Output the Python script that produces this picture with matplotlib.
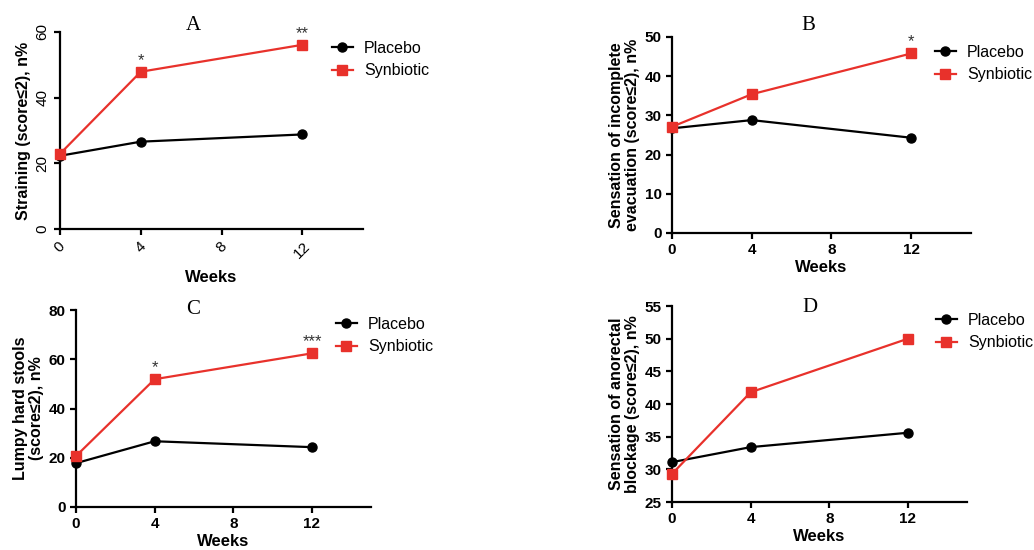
import matplotlib
matplotlib.use('Agg')
import matplotlib.pyplot as plt

plt.rcParams['font.family'] = ['Liberation Sans', 'DejaVu Sans']

weeks = [0, 4, 12]

placebo_a = [22.3, 26.6, 28.8]
synbiotic_a = [22.9, 47.9, 56.1]
placebo_b = [26.7, 28.8, 24.3]
synbiotic_b = [27.1, 35.4, 45.8]
placebo_c = [17.8, 26.7, 24.3]
synbiotic_c = [20.7, 51.9, 62.4]
placebo_d = [31.1, 33.4, 35.6]
synbiotic_d = [29.3, 41.8, 50.0]

stars_a = ['', '*', '**']
stars_b = ['', '', '*']
stars_c = ['', '*', '***']
stars_d = ['', '', '']

RED = '#e8312b'
W, H = 1034, 550


def px_axes(fig, left, top, right, bottom):
    return fig.add_axes([left / W, 1 - bottom / H, (right - left) / W, (bottom - top) / H])


def panel(ax, placebo, synbiotic, stars, letter, letter_xy, ylabel, ylim, yticks, legend_xy,
          rotated=False):
    ax.plot(weeks, placebo, color='black', marker='o', ms=6.5, lw=1.6, label='Placebo',
            clip_on=False, zorder=3)
    ax.plot(weeks, synbiotic, color=RED, marker='s', ms=6.5, lw=1.6, label='Synbiotic',
            clip_on=False, zorder=3)
    span = ylim[1] - ylim[0]
    for x, y, s in zip(weeks, synbiotic, stars):
        if s:
            ax.text(x, y + span * 0.02, s, ha='center', va='bottom', fontsize=12,
                    color='#333333')
    ax.set_xlim(0, 15)
    ax.set_ylim(*ylim)
    ax.set_xticks([0, 4, 8, 12])
    ax.set_yticks(yticks)
    for side in ('top', 'right'):
        ax.spines[side].set_visible(False)
    for side in ('left', 'bottom'):
        ax.spines[side].set_linewidth(1.6)
    ax.tick_params(width=1.6, length=4, labelsize=11)
    if rotated:
        for lab in ax.get_yticklabels():
            lab.set_rotation(90)
            lab.set_va('center')
        for lab in ax.get_xticklabels():
            lab.set_rotation(45)
            lab.set_ha('center')
    else:
        for lab in ax.get_xticklabels() + ax.get_yticklabels():
            lab.set_fontweight('bold')
    ax.set_xlabel('Weeks', fontsize=12, fontweight='bold', labelpad=2 if not rotated else 6)
    ax.set_ylabel(ylabel, fontsize=11.5, fontweight='bold', linespacing=1.1, labelpad=3)
    fig = ax.figure
    fig.text(letter_xy[0] / W, 1 - letter_xy[1] / H, letter, family='Liberation Serif',
             fontsize=15, ha='center', va='center')
    ax.legend(loc='upper left', bbox_to_anchor=legend_xy, bbox_transform=fig.transFigure,
              frameon=False, fontsize=11.5, handlelength=1.3, handletextpad=0.7,
              labelspacing=0.45, borderpad=0, borderaxespad=0)


fig = plt.figure(figsize=(W / 100, H / 100), dpi=100)

ax_a = px_axes(fig, 60, 32, 363, 229)
panel(ax_a, placebo_a, synbiotic_a, stars_a, 'A', (193, 26), 'Straining (score\u22642), n%',
      (0, 60), [0, 20, 40, 60], (332 / W, 1 - 41 / H), rotated=True)

ax_b = px_axes(fig, 672, 37, 971, 233)
panel(ax_b, placebo_b, synbiotic_b, stars_b, 'B', (808, 25),
      'Sensation of incomplete\nevacuation (score\u22642), n%',
      (0, 50), [0, 10, 20, 30, 40, 50], (935 / W, 1 - 45 / H))

ax_c = px_axes(fig, 76, 310, 371, 507)
panel(ax_c, placebo_c, synbiotic_c, stars_c, 'C', (193, 309), 'Lumpy hard stools\n(score\u22642), n%',
      (0, 80), [0, 20, 40, 60, 80], (336 / W, 1 - 317 / H))

ax_d = px_axes(fig, 672, 306, 967, 502)
panel(ax_d, placebo_d, synbiotic_d, stars_d, 'D', (810, 307),
      'Sensation of anorectal\nblockage (score\u22642), n%',
      (25, 55), [25, 30, 35, 40, 45, 50, 55], (936 / W, 1 - 313 / H))

fig.savefig('out.png', dpi=100)
plt.close('all')
